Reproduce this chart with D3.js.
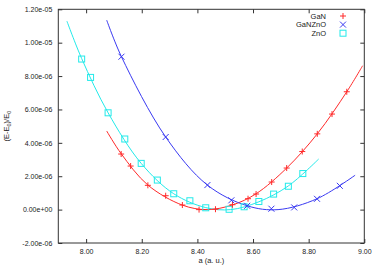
<!DOCTYPE html>
<html><head><meta charset="utf-8">
<script src="https://cdn.jsdelivr.net/npm/d3@7"></script>
<style>
html,body{margin:0;padding:0;background:#fff;}
svg text{font-family:"Liberation Sans",Arial,sans-serif;}
</style></head>
<body><svg id="c" width="382" height="267"></svg>
<script>
// ---- data ----
const xTicks = [8.00, 8.20, 8.40, 8.60, 8.80, 9.00];
const yTicks = [-2e-6, 0, 2e-6, 4e-6, 6e-6, 8e-6, 1e-5, 1.2e-5];
const seriesNames = ["GaN", "GaNZnO", "ZnO"];

const ganX = [8.126, 8.160, 8.222, 8.286, 8.346, 8.406, 8.465, 8.526, 8.582, 8.611, 8.667, 8.721, 8.777, 8.831, 8.884, 8.937];
const ganY = [3.33e-6, 2.61e-6, 1.455e-6, 0.832e-6, 0.275e-6, 0.0, 0.024e-6, 0.293e-6, 0.653e-6, 0.934e-6, 1.653e-6, 2.491e-6, 3.479e-6, 4.539e-6, 5.725e-6, 7.06e-6];
const ganFitX = [8.074, 8.126, 8.222, 8.346, 8.435, 8.526, 8.611, 8.721, 8.831, 8.937, 8.994];
const ganFitY = [4.71e-6, 3.35e-6, 1.47e-6, 0.27e-6, 0.0, 0.28e-6, 0.95e-6, 2.49e-6, 4.54e-6, 7.06e-6, 8.62e-6];

const gznX = [8.127, 8.286, 8.436, 8.522, 8.579, 8.666, 8.748, 8.830, 8.912];
const gznY = [9.16e-6, 4.35e-6, 1.47e-6, 0.557e-6, 0.228e-6, 0.054e-6, 0.132e-6, 0.647e-6, 1.425e-6];
const gznFitX = [8.074, 8.127, 8.286, 8.436, 8.579, 8.690, 8.830, 8.967];
const gznFitY = [1.135e-5, 9.16e-6, 4.35e-6, 1.47e-6, 0.23e-6, 0.0, 0.65e-6, 2.06e-6];

const znoX = [7.984, 8.016, 8.079, 8.139, 8.198, 8.256, 8.315, 8.373, 8.430, 8.514, 8.568, 8.621, 8.674, 8.727, 8.779];
const znoY = [9.02e-6, 7.92e-6, 5.80e-6, 4.23e-6, 2.77e-6, 1.77e-6, 0.95e-6, 0.53e-6, 0.11e-6, 0.02e-6, 0.17e-6, 0.485e-6, 0.93e-6, 1.40e-6, 2.16e-6];
const znoFitX = [7.931, 7.984, 8.079, 8.198, 8.315, 8.430, 8.520, 8.621, 8.727, 8.836];
const znoFitY = [1.129e-5, 9.05e-6, 5.80e-6, 2.77e-6, 0.95e-6, 0.12e-6, 0.0, 0.47e-6, 1.42e-6, 3.03e-6];

// ---- layout ----
const svg = d3.select("#c");
const L = 58.3, R = 364.3, T = 9.3, B = 243;
const x = d3.scaleLinear().domain([7.9, 9.0]).range([L, R]);
const y = d3.scaleLinear().domain([-2e-6, 1.2e-5]).range([B, T]);
const colors = {GaN: "#ff2a2a", GaNZnO: "#3a3af2", ZnO: "#22eaea"};
const axisCol = "#333";

// ticks (inward, mirrored)
const gx = svg.append("g").attr("transform", `translate(0,${B})`)
  .call(d3.axisBottom(x).tickValues(xTicks).tickSize(-4).tickPadding(6).tickFormat(d3.format(".2f")));
const gxt = svg.append("g").attr("transform", `translate(0,${T})`)
  .call(d3.axisTop(x).tickValues(xTicks).tickSize(-4).tickFormat(""));
const gy = svg.append("g").attr("transform", `translate(${L},0)`)
  .call(d3.axisLeft(y).tickValues(yTicks).tickSize(-4).tickPadding(6)
    .tickFormat(d => { if (d === 0) return "0.00e+00"; const s = d3.format(".2e")(d); return s.replace(/e([+-])(\d)$/, "e$10$2").replace("e-", "e-").replace(/−/g,"-"); }));
const gyr = svg.append("g").attr("transform", `translate(${R},0)`)
  .call(d3.axisRight(y).tickValues(yTicks).tickSize(-4).tickFormat(""));
[gx, gxt, gy, gyr].forEach(g => {
  g.select(".domain").remove();
  g.selectAll(".tick line").attr("stroke", axisCol);
  g.selectAll("text").attr("font-size", 7).attr("fill", "#222");
});
gy.selectAll("text").text(d => {
  if (d === 0) return "0.00e+00";
  const e = Math.floor(Math.log10(Math.abs(d)) + 1e-9);
  const m = d / Math.pow(10, e);
  const es = (e < 0 ? "-" : "+") + String(Math.abs(e)).padStart(2, "0");
  return m.toFixed(2) + "e" + es;
});

// border
svg.append("rect").attr("x", L).attr("y", T).attr("width", R - L).attr("height", B - T)
  .attr("fill", "none").attr("stroke", axisCol).attr("stroke-width", 1);

// axis labels
svg.append("text").attr("x", (L + R) / 2).attr("y", 263).attr("text-anchor", "middle")
  .attr("font-size", 7.5).attr("fill", "#222").text("a (a. u.)");
const yl = svg.append("text").attr("transform", `translate(9,${(T + B) / 2}) rotate(-90)`)
  .attr("text-anchor", "middle").attr("font-size", 7.5).attr("fill", "#222");
yl.append("tspan").text("(E-E");
yl.append("tspan").attr("font-size", 5.5).attr("dy", 2).text("0");
yl.append("tspan").attr("dy", -2).text(")/E");
yl.append("tspan").attr("font-size", 5.5).attr("dy", 2).text("0");

// curves
const line = d3.line().x(d => x(d[0])).y(d => y(d[1])).curve(d3.curveCatmullRom.alpha(0.5));
const fits = {
  GaN: d3.zip(ganFitX, ganFitY),
  GaNZnO: d3.zip(gznFitX, gznFitY),
  ZnO: d3.zip(znoFitX, znoFitY)
};
const pts = {
  GaN: d3.zip(ganX, ganY),
  GaNZnO: d3.zip(gznX, gznY),
  ZnO: d3.zip(znoX, znoY)
};
const clip = svg.append("clipPath").attr("id", "pc").append("rect")
  .attr("x", L).attr("y", T).attr("width", R - L).attr("height", B - T);
const plot = svg.append("g").attr("clip-path", "url(#pc)");
["ZnO", "GaN", "GaNZnO"].forEach(n => {
  plot.append("path").datum(fits[n]).attr("d", line).attr("fill", "none")
    .attr("stroke", colors[n]).attr("stroke-width", 1);
});

function marker(g, n, cx, cy) {
  const c = colors[n], s = 3;
  if (n === "GaN") {
    g.append("path").attr("d", `M${cx - s},${cy}H${cx + s}M${cx},${cy - s}V${cy + s}`).attr("stroke", c).attr("stroke-width", 1).attr("fill", "none");
  } else if (n === "GaNZnO") {
    g.append("path").attr("d", `M${cx - s},${cy - s}L${cx + s},${cy + s}M${cx - s},${cy + s}L${cx + s},${cy - s}`).attr("stroke", c).attr("stroke-width", 1).attr("fill", "none");
  } else {
    g.append("rect").attr("x", cx - s).attr("y", cy - s).attr("width", 2 * s).attr("height", 2 * s).attr("stroke", c).attr("stroke-width", 1).attr("fill", "none");
  }
}
["ZnO", "GaN", "GaNZnO"].forEach(n => {
  pts[n].forEach(p => marker(plot, n, x(p[0]), y(p[1])));
});

// legend
seriesNames.forEach((n, i) => {
  const ly = 16 + i * 8.6;
  svg.append("text").attr("x", 326).attr("y", ly + 2.5).attr("text-anchor", "end")
    .attr("font-size", 7.5).attr("fill", "#222").text(n);
  marker(svg, n, 343, ly);
});
</script></body></html>
